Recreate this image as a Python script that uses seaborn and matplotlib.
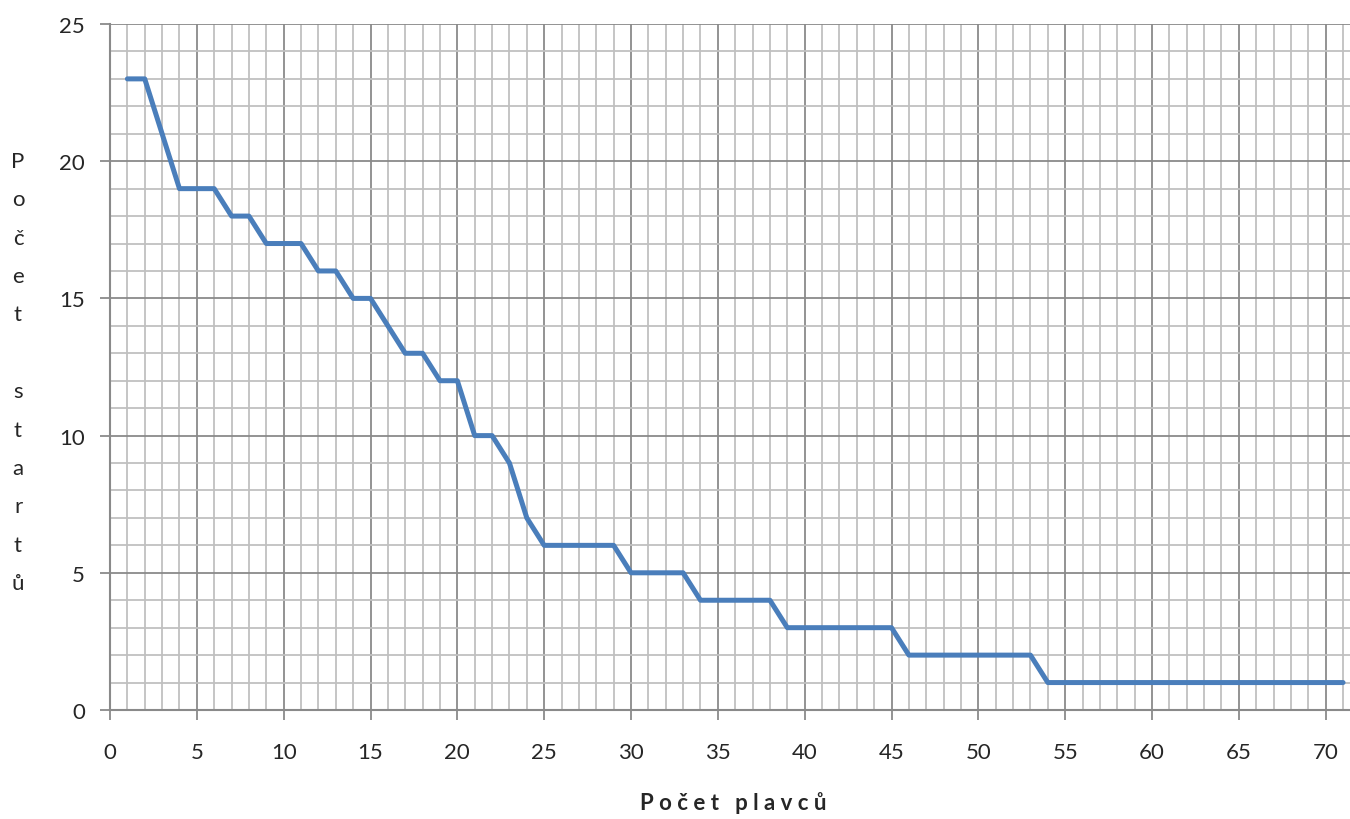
import matplotlib
matplotlib.use("Agg")
import matplotlib.pyplot as plt
from matplotlib.ticker import MultipleLocator
import seaborn as sns
import pandas as pd

# počet plavců (x) vs. počet startů (y)
plavci = list(range(1, 72))
starty = ([23, 23, 21, 19, 19, 19, 18, 18, 17, 17, 17, 16, 16, 15, 15, 14,
           13, 13, 12, 12, 10, 10, 9, 7]
          + [6] * 5 + [5] * 4 + [4] * 5 + [3] * 7 + [2] * 8 + [1] * 18)

x_label = "P o č e t   p l a v c ů"
y_label = "P\no\nč\ne\nt\n\ns\nt\na\nr\nt\nů"

df = pd.DataFrame({"plavci": plavci, "starty": starty})

sns.set_style("white")
plt.rcParams["font.family"] = ["Lato", "DejaVu Sans"]

fig = plt.figure(figsize=(13.5, 8.2), dpi=100)
ax = fig.add_axes([110 / 1350, 1 - 711 / 820, 1 - 110 / 1350, (711 - 25) / 820])

sns.lineplot(data=df, x="plavci", y="starty", ax=ax, color="#4a7ebb",
             linewidth=3.6, solid_capstyle="round", zorder=5)

ax.set_xlim(0, 71.4)
ax.set_ylim(0, 25)
ax.xaxis.set_major_locator(MultipleLocator(5))
ax.xaxis.set_minor_locator(MultipleLocator(1))
ax.yaxis.set_major_locator(MultipleLocator(5))
ax.yaxis.set_minor_locator(MultipleLocator(1))

ax.grid(which="minor", color="#c0c0c0", linewidth=1.3)
ax.grid(which="major", color="#8a8a8a", linewidth=1.3)
ax.set_axisbelow(True)

for s in ["top", "right"]:
    ax.spines[s].set_visible(False)
for s in ["left", "bottom"]:
    ax.spines[s].set_color("#8a8a8a")
    ax.spines[s].set_linewidth(1.5)

ax.tick_params(axis="x", which="major", length=7, width=1.3, color="#8a8a8a",
               pad=16, labelsize=16, bottom=True)
ax.tick_params(axis="y", which="major", length=7, width=1.3, color="#8a8a8a",
               pad=11, labelsize=16, left=True)
ax.tick_params(which="minor", length=0)

ax.set_xlabel("")
ax.set_ylabel("")
fig.text(733 / 1350, 1 - 803 / 820, x_label, ha="center", va="center",
         fontsize=16, fontweight="bold")
fig.text(18 / 1350, 1 - 373 / 820, y_label, ha="center", va="center",
         fontsize=16, linespacing=2.15)

fig.savefig("out.png", dpi=100)
